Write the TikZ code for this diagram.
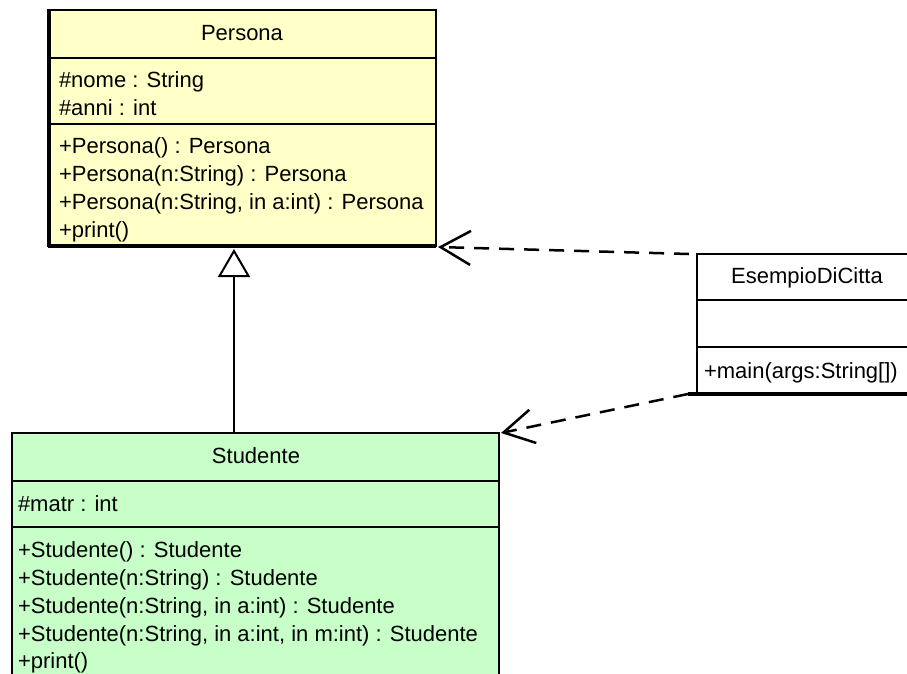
\documentclass[tikz,border=0pt]{standalone}
\usepackage{fontspec}
\setmainfont{Liberation Sans}
\usetikzlibrary{arrows.meta}

\definecolor{personafill}{RGB}{255,255,200}
\definecolor{studentefill}{RGB}{200,255,200}

\tikzset{
  classbox/.style={draw=black, line width=2.5pt, inner sep=0pt, outer sep=0pt,
                   rectangle, anchor=north west},
  divider/.style={draw=black, line width=2pt},
  member/.style={inner sep=0pt, outer sep=0pt, anchor=base west,
                 font=\fontsize{22}{26}\selectfont},
  classname/.style={member, anchor=base},
  generalization/.style={draw=black, line width=2.5pt,
                 -{Triangle[open, length=28pt, width=32pt, line width=2pt]}},
  dependency/.style={draw=black, line width=2.5pt, dash pattern=on 15pt off 10pt,
                 -{Straight Barb[length=30pt, width=34pt, line width=2.5pt]}}
}

\begin{document}
\begin{tikzpicture}[x=1pt, y=-1pt]
  \useasboundingbox (0,0) rectangle (907,673);
  \clip (0,0) rectangle (907,673);
  \fill[white] (0,0) rectangle (907,673);

  % ---- class Persona ----
  \node[classbox, fill=personafill, minimum width=388pt, minimum height=236pt]
    (persona) at (48,10) {};
  \draw[line width=4.5pt] ([xshift=1pt]persona.north west) -- ([xshift=1pt]persona.south west);
  \draw[line width=3.5pt] (persona.south west) -- (persona.south east);
  \draw[divider] ([yshift=-48pt]persona.north west) -- ([yshift=-48pt]persona.north east);
  \draw[divider] ([yshift=-114pt]persona.north west) -- ([yshift=-114pt]persona.north east);
  \node[classname] (persona-name) at (242,40) {Persona};
  \node[member] (persona-a1) at (59,87) {\#nome : String};
  \node[member] (persona-a2) at (59,115) {\#anni : int};
  \node[member] (persona-m1) at (59,153) {+Persona() : Persona};
  \node[member] (persona-m2) at (59,181) {+Persona(n:String) : Persona};
  \node[member] (persona-m3) at (59,209) {+Persona(n:String, in a:int) : Persona};
  \node[member] (persona-m4) at (59,237) {+print()};

  % ---- class Studente ----
  \node[classbox, fill=studentefill, minimum width=487pt, minimum height=260pt]
    (studente) at (12,433) {};
  \draw[divider] ([yshift=-48pt]studente.north west) -- ([yshift=-48pt]studente.north east);
  \draw[divider] ([yshift=-94pt]studente.north west) -- ([yshift=-94pt]studente.north east);
  \node[classname] (studente-name) at (256,463) {Studente};
  \node[member] (studente-a1) at (18,511) {\#matr : int};
  \node[member] (studente-m1) at (18,557) {+Studente() : Studente};
  \node[member] (studente-m2) at (18,585) {+Studente(n:String) : Studente};
  \node[member] (studente-m3) at (18,613) {+Studente(n:String, in a:int) : Studente};
  \node[member] (studente-m4) at (18,641) {+Studente(n:String, in a:int, in m:int) : Studente};
  \node[member] (studente-m5) at (18,668) {+print()};

  % ---- class EsempioDiCitta ----
  \node[classbox, fill=white, minimum width=220pt, minimum height=140pt]
    (esempio) at (697,254) {};
  \draw[line width=3.5pt] ([xshift=-9pt]esempio.south west) -- (esempio.south east);
  \draw[divider] ([yshift=-46pt]esempio.north west) -- ([yshift=-46pt]esempio.north east);
  \draw[divider] ([yshift=-93pt]esempio.north west) -- ([yshift=-93pt]esempio.north east);
  \node[classname] (esempio-name) at (807,283) {EsempioDiCitta};
  \node[member] (esempio-m1) at (704,378) {+main(args:String[])};

  % ---- relations ----
  \coordinate (inhx) at (234,0);
  \draw[generalization] (studente.north -| inhx) -- ([yshift=-3pt]persona.south -| inhx);
  \draw[dependency] ([xshift=-8pt]esempio.north west) -- ([xshift=2pt,yshift=-1pt]persona.south east);
  \draw[dependency] ([xshift=-9pt]esempio.south west) -- ([xshift=2pt]studente.north east);
\end{tikzpicture}
\end{document}
